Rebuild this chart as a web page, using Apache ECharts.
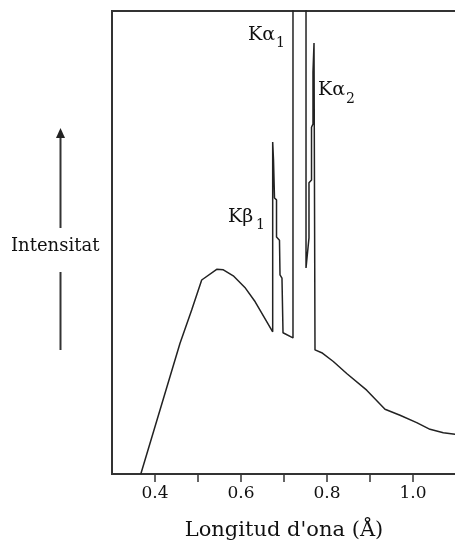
<!DOCTYPE html>
<html>
<head>
<meta charset="utf-8">
<script src="https://cdn.jsdelivr.net/npm/echarts@6/dist/echarts.min.js"></script>
<style>
html,body{margin:0;padding:0;background:#fff;overflow:hidden;}
#chart{width:455px;height:546px;}
</style>
</head>
<body>
<div id="chart"></div>
<script>
// Wavelength (Å) and relative intensity (0-100 = plot height; >100 is clipped)
const wavelength = [0.367, 0.458, 0.4853, 0.5086, 0.5435, 0.559, 0.582, 0.609, 0.633, 0.6737,
  0.6737, 0.6756, 0.6779, 0.6826, 0.6826, 0.6895, 0.6907, 0.6953, 0.6977, 0.7209,
  0.7209, 0.7512, 0.7512, 0.7581, 0.7581, 0.764, 0.764, 0.7674, 0.7674, 0.7698, 0.7721, 0.7721,
  0.7877, 0.8147, 0.8458, 0.8923, 0.9349, 0.9698, 1.0086, 1.0395, 1.0705, 1.0977, 1.1];
const intensity = [0, 28.2, 35.4, 41.9, 44.2, 44.1, 42.8, 40.3, 37.2, 30.7,
  71.7, 67.8, 59.6, 59.2, 51.2, 50.5, 43.0, 42.3, 30.5, 29.4,
  130, 130, 44.5, 51.0, 62.9, 63.5, 74.9, 75.6, 86.8, 93.1, 93.1, 26.8,
  26.2, 24.3, 21.7, 18.1, 14.0, 12.7, 11.1, 9.65, 8.9, 8.6, 8.5];
const xTickValues = [0.4, 0.5, 0.6, 0.7, 0.8, 0.9, 1.0];
const xLabelValues = [0.4, 0.6, 0.8, 1.0];
const xTitle = "Longitud d'ona (Å)";
const yTitle = 'Intensitat';
// peak annotations: text anchored (top-left) at data coordinates
const peakMain = ['Kα', 'Kα', 'Kβ'];
const peakSub = ['1', '2', '1'];
const peakX = [0.6163, 0.779, 0.5698];
const peakY = [96.8, 84.9, 57.5];

const serif = 'DejaVu Serif';
const chart = echarts.init(document.getElementById('chart'), null, {renderer: 'canvas'});
const data = wavelength.map((w, i) => [w, intensity[i]]);

const option = {
  animation: false,
  backgroundColor: '#fff',
  grid: {left: 112, top: 11, width: 344, height: 463, outerBoundsMode: 'none', containLabel: false,
    show: true, borderColor: '#333', borderWidth: 2, backgroundColor: 'transparent'},
  xAxis: {
    type: 'value', min: 0.3, max: 1.1, interval: 0.1,
    axisLine: {show: true, lineStyle: {color: '#333', width: 2}},
    axisTick: {show: true, inside: false, length: 8, lineStyle: {color: '#333', width: 1.5},
      customValues: xTickValues},
    splitLine: {show: false},
    axisLabel: {
      margin: 11, fontFamily: serif, fontSize: 17, color: '#111',
      customValues: xLabelValues,
      formatter: v => Number(v).toFixed(1)
    },
    name: xTitle, nameLocation: 'middle', nameGap: 46,
    nameTextStyle: {fontFamily: serif, fontSize: 21, color: '#111'}
  },
  yAxis: {
    type: 'value', min: 0, max: 100,
    axisLine: {show: true, lineStyle: {color: '#333', width: 2}},
    axisTick: {show: false}, axisLabel: {show: false}, splitLine: {show: false}
  },
  series: [{
    type: 'line', data: data, symbol: 'none', clip: true,
    lineStyle: {color: '#222', width: 1.5}
  }]
};
chart.setOption(option);

const g = [];
// y-title with arrow
g.push({type: 'text', left: 11, top: 237, style: {text: yTitle, font: '18px "' + serif + '"', fill: '#111'}});
g.push({type: 'line', shape: {x1: 60.5, y1: 137, x2: 60.5, y2: 228}, style: {stroke: '#333', lineWidth: 2}});
g.push({type: 'line', shape: {x1: 60.5, y1: 272, x2: 60.5, y2: 350}, style: {stroke: '#333', lineWidth: 2}});
g.push({type: 'polygon', shape: {points: [[60.5, 128], [56, 138], [65, 138]]}, style: {fill: '#222'}});
// peak labels
peakMain.forEach((m, i) => {
  const p = chart.convertToPixel({gridIndex: 0}, [peakX[i], peakY[i]]);
  g.push({type: 'text', x: p[0], y: p[1], style: {text: m, font: '19px "' + serif + '"', fill: '#111'}});
  g.push({type: 'text', x: p[0] + 28, y: p[1] + 11, style: {text: peakSub[i], font: '14px "' + serif + '"', fill: '#111'}});
});
chart.setOption({graphic: g});
</script>
</body>
</html>
